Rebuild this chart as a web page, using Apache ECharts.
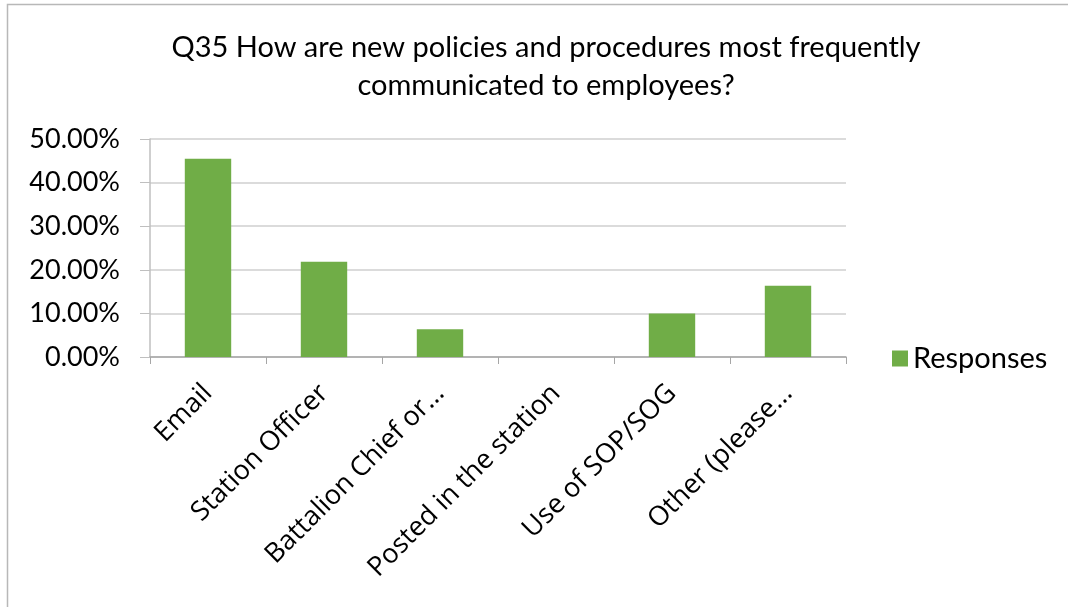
<!DOCTYPE html>
<html>
<head>
<meta charset="utf-8">
<script src="https://cdn.jsdelivr.net/npm/echarts@6/dist/echarts.min.js"></script>
<style>
  html, body { margin: 0; padding: 0; background: #fff; }
  #chart { width: 1068px; height: 607px; }
</style>
</head>
<body>
<div id="chart"></div>
<script>
const categories = ['Email', 'Station Officer', 'Battalion Chief or...', 'Posted in the station', 'Use of SOP/SOG', 'Other (please...']
const responses = [45.45, 21.82, 6.36, 0, 10.0, 16.36]
const yTicks = [0, 10, 20, 30, 40, 50]

const font = 'Lato, "Open Sans", sans-serif'

let myChart = echarts.init(document.getElementById('chart'))
myChart.setOption({
  animation: false,
  title: {
    text: 'Q35 How are new policies and procedures most frequently\ncommunicated to employees?',
    left: 541,
    textAlign: 'center',
    top: 24,
    textStyle: {
      fontFamily: font,
      fontSize: 29,
      fontWeight: 'normal',
      color: '#000',
      lineHeight: 38
    }
  },
  graphic: [{
    type: 'polyline',
    shape: { points: [[7.5, 800], [7.5, 4.5], [1200, 4.5]] },
    style: { fill: 'none', stroke: '#b8b8b8', lineWidth: 1.5 },
    silent: true
  }],
  legend: {
    left: 887,
    top: 339,
    itemWidth: 16,
    itemHeight: 16,
    icon: 'rect',
    itemGap: 10,
    textStyle: { fontFamily: font, fontSize: 29, color: '#000' },
    data: ['Responses']
  },
  grid: {
    left: 150,
    right: 222,
    top: 139,
    bottom: 250
  },
  xAxis: {
    type: 'category',
    data: categories,
    axisLine: { lineStyle: { color: '#a6a6a6', width: 1.5 } },
    axisTick: { show: true, length: 7, lineStyle: { color: '#a6a6a6' } },
    axisLabel: {
      rotate: 45,
      interval: 0,
      margin: 32,
      fontFamily: '"Open Sans", sans-serif',
      fontSize: 27,
      color: '#000'
    }
  },
  yAxis: {
    type: 'value',
    min: yTicks[0],
    max: yTicks[yTicks.length - 1],
    interval: 10,
    axisLine: { show: true, lineStyle: { color: '#bfbfbf', width: 1.5 } },
    axisTick: { show: true, length: 10, lineStyle: { color: '#bfbfbf' } },
    splitLine: { lineStyle: { color: '#cfcfcf', width: 1.5 } },
    axisLabel: {
      margin: 30,
      fontFamily: font,
      fontSize: 27,
      color: '#000',
      formatter: v => v.toFixed(2) + '%'
    }
  },
  series: [{
    name: 'Responses',
    type: 'bar',
    data: responses,
    barCategoryGap: '60%',
    itemStyle: { color: '#70ad47' }
  }]
})
</script>
</body>
</html>
